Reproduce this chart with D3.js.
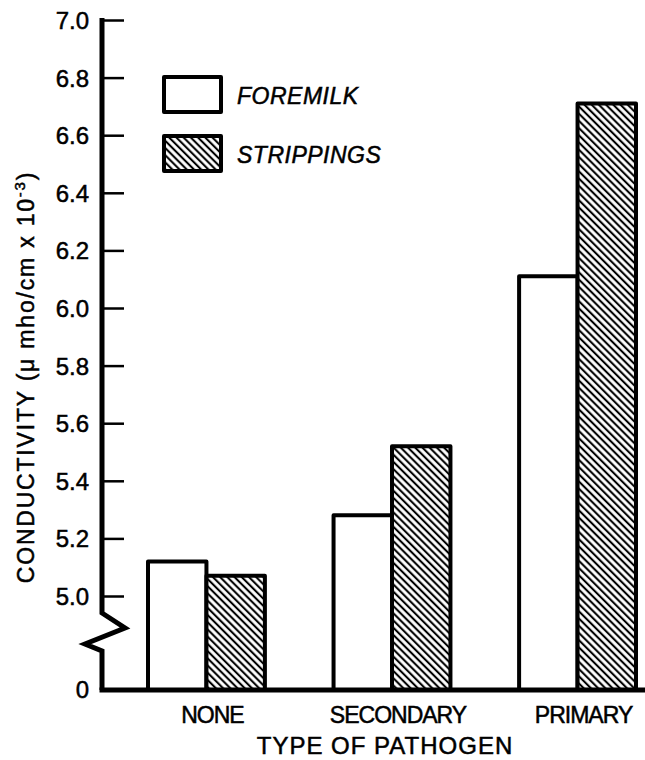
<!DOCTYPE html>
<html>
<head>
<meta charset="utf-8">
<script src="https://cdn.jsdelivr.net/npm/d3@7"></script>
<style>
  body { margin: 0; background: #fff; }
  text { font-family: "Liberation Sans", Arial, sans-serif; fill: #000;
         stroke: #000; stroke-width: 0.5px; }
</style>
</head>
<body>
<svg id="chart" width="645" height="760"></svg>
<script>
// data
var categories = [ "NONE", "SECONDARY", "PRIMARY" ];
var series = [ "FOREMILK", "STRIPPINGS" ];
var foremilk = [ 5.12, 5.28, 6.11 ];
var strippings = [ 5.07, 5.52, 6.71 ];
var yTicks = [ 5.0, 5.2, 5.4, 5.6, 5.8, 6.0, 6.2, 6.4, 6.6, 6.8, 7.0 ];

window.addEventListener( "load", makeChart );
function makeChart() {
    var svg = d3.select( "#chart" );
    var ax = 102, base = 690;                                  // axis x, baseline y

    var scY = d3.scaleLinear().domain( [5, 7] ).range( [596, 20] );
    var scX = d3.scaleBand().domain( categories ).range( [148, 636] )
        .paddingInner( 0.37 ).paddingOuter( 0 );
    var scS = d3.scaleBand().domain( series ).range( [0, scX.bandwidth()] );

    // hatch pattern for strippings
    var pat = svg.append( "defs" ).append( "pattern" )
        .attr( "id", "hatch" ).attr( "patternUnits", "userSpaceOnUse" )
        .attr( "width", 10 ).attr( "height", 5.1 )
        .attr( "patternTransform", "rotate(45)" );
    pat.append( "rect" ).attr( "width", 10 ).attr( "height", 5.1 ).attr( "fill", "white" );
    pat.append( "line" ).attr( "x1", 0 ).attr( "x2", 10 )
        .attr( "y1", 2.5 ).attr( "y2", 2.5 )
        .attr( "stroke", "black" ).attr( "stroke-width", 2.1 );

    var fills = { FOREMILK: "white", STRIPPINGS: "url(#hatch)" };

    var rows = [];
    categories.forEach( (c, i) => {
        rows.push( { cat: c, s: "FOREMILK", v: foremilk[i] } );
        rows.push( { cat: c, s: "STRIPPINGS", v: strippings[i] } );
    } );

    // bars
    svg.append( "g" ).selectAll( "rect" ).data( rows ).enter().append( "rect" )
        .attr( "x", d => scX(d.cat) + scS(d.s) )
        .attr( "y", d => scY(d.v) )
        .attr( "width", scS.bandwidth() )
        .attr( "height", d => base - scY(d.v) )
        .attr( "fill", d => fills[d.s] )
        .attr( "stroke", "black" ).attr( "stroke-width", 4 )
        .attr( "stroke-linejoin", "round" );

    // y axis: ticks point right, labels on the left
    var gy = svg.append( "g" ).attr( "transform", "translate(" + ax + ",0)" )
        .call( d3.axisLeft( scY ).tickValues( yTicks ).tickFormat( d3.format( ".1f" ) )
               .tickSize( -22 ).tickPadding( 13 ) );
    gy.select( ".domain" ).remove();
    gy.selectAll( "line" ).attr( "stroke", "black" ).attr( "stroke-width", 2.5 );
    gy.selectAll( "text" ).style( "font-size", "24px" ).attr( "dy", "0.35em" )
        .attr( "font-family", null );

    // zero label at baseline
    svg.append( "text" ).attr( "x", ax - 13 ).attr( "y", base ).attr( "dy", "0.35em" )
        .attr( "text-anchor", "end" ).style( "font-size", "24px" ).text( "0" );

    // broken axis line with zigzag
    var yb = scY(5) + 17;
    var brk = [ [ax, scY(7) - 2], [ax, yb], [ax + 23, yb + 15], [ax - 17, yb + 31],
                [ax, yb + 38], [ax, base] ];
    svg.append( "path" ).attr( "d", d3.line()( brk ) )
        .attr( "fill", "none" ).attr( "stroke", "black" ).attr( "stroke-width", 5 )
        .attr( "stroke-linejoin", "miter" );

    // baseline
    svg.append( "line" ).attr( "x1", ax - 2.5 ).attr( "x2", 645 )
        .attr( "y1", base ).attr( "y2", base )
        .attr( "stroke", "black" ).attr( "stroke-width", 5 );

    // category labels
    svg.append( "g" ).selectAll( "text" ).data( categories ).enter().append( "text" )
        .attr( "x", d => scX(d) + scX.bandwidth()/2 + 6 ).attr( "y", 723 )
        .attr( "text-anchor", "middle" ).style( "font-size", "23px" )
        .style( "letter-spacing", "-1px" ).text( d => d );

    svg.append( "text" ).attr( "x", 385 ).attr( "y", 754 )
        .attr( "text-anchor", "middle" ).style( "font-size", "24px" )
        .style( "letter-spacing", "1px" ).text( "TYPE OF PATHOGEN" );

    // y title
    var yt = svg.append( "text" ).attr( "transform", "translate(34,377) rotate(-90)" )
        .attr( "text-anchor", "middle" ).style( "font-size", "23px" )
        .style( "letter-spacing", "1.8px" );
    yt.append( "tspan" ).text( "CONDUCTIVITY (\u03bc mho/cm x 10" );
    yt.append( "tspan" ).attr( "dy", -9 ).style( "font-size", "15px" ).text( "-3" );
    yt.append( "tspan" ).attr( "dy", 9 ).text( ")" );

    // legend
    var lg = svg.append( "g" ).selectAll( "g" ).data( series ).enter().append( "g" )
        .attr( "transform", (d, i) => "translate(164," + (77 + i*59) + ")" );
    lg.append( "rect" ).attr( "width", 57 ).attr( "height", 35 )
        .attr( "fill", d => fills[d] ).attr( "stroke", "black" )
        .attr( "stroke-width", 4 ).attr( "stroke-linejoin", "round" );
    lg.append( "text" ).attr( "x", 73 ).attr( "y", 27 )
        .style( "font-size", "23px" ).style( "font-style", "italic" )
        .style( "letter-spacing", "0.5px" ).text( d => d );
}
</script>
</body>
</html>
